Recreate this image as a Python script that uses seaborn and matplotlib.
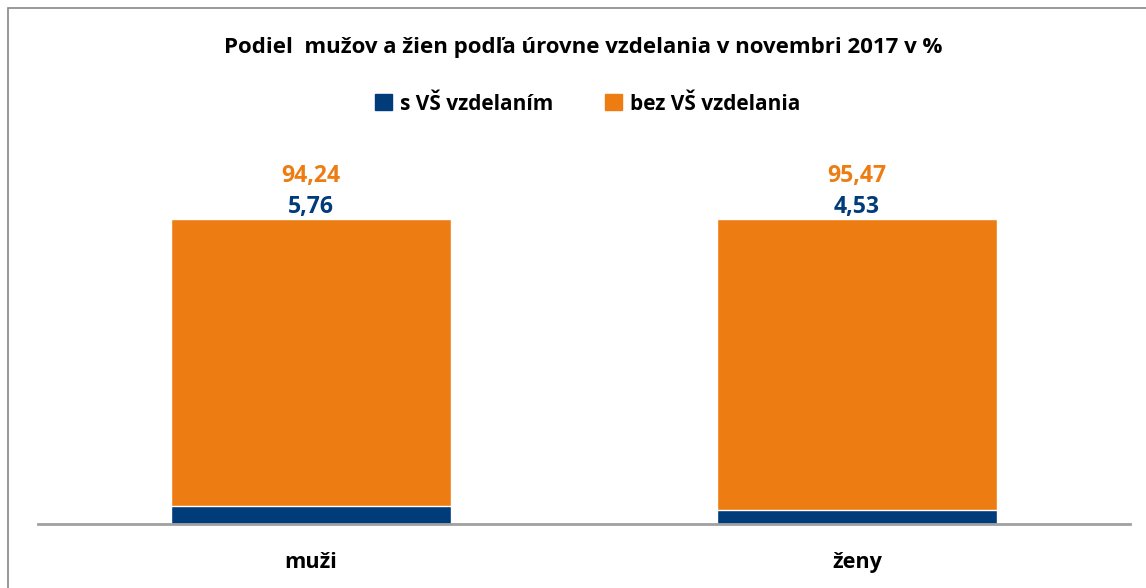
import matplotlib.pyplot as plt
import pandas as pd
import seaborn as sns
from matplotlib.patches import Rectangle

categories = ['muži', 'ženy']
s_vs = [5.76, 4.53]
bez_vs = [94.24, 95.47]
series_names = ['s VŠ vzdelaním', 'bez VŠ vzdelania']
title = 'Podiel  mužov a žien podľa úrovne vzdelania v novembri 2017 v %'

blue = '#003B7A'
orange = '#ED7D13'

sns.set_style('white')
plt.rcParams['font.family'] = ['Open Sans', 'DejaVu Sans']
plt.rcParams['text.color'] = 'black'
plt.rcParams['xtick.color'] = 'black'

data = pd.DataFrame({'kat': categories, 's_vs': s_vs, 'bez_vs': bez_vs})
data['spolu'] = data['s_vs'] + data['bez_vs']

fig = plt.figure(figsize=(11.46, 5.88), dpi=100)
W, H = 1146, 588
ax = fig.add_axes([38 / W, (H - 524) / H, (1130 - 38) / W, 305 / H])

# stacked bars: total in orange, blue share drawn over it
sns.barplot(data=data, x='kat', y='spolu', color=orange, width=0.513,
            saturation=1, ax=ax)
sns.barplot(data=data, x='kat', y='s_vs', color=blue, width=0.513,
            saturation=1, ax=ax)

ax.set_xlim(-0.5, 1.5)
ax.set_ylim(0, 100)
ax.set_xlabel('')
ax.set_ylabel('')
ax.set_yticks([])
for side in ['top', 'right', 'left']:
    ax.spines[side].set_visible(False)
ax.spines['bottom'].set_color('#A0A0A0')
ax.spines['bottom'].set_linewidth(2)
ax.tick_params(axis='x', length=0, pad=20, labelsize=15.6, labelcolor='black')
for lbl in ax.get_xticklabels():
    lbl.set_fontweight('bold')

# value labels above bars
for i, row in data.iterrows():
    top = row['spolu']
    ax.annotate(f"{row['s_vs']:.2f}".replace('.', ','), (i, top),
                xytext=(0, 12), textcoords='offset pixels', ha='center',
                va='center', color=blue, fontsize=16.6, fontweight='bold',
                annotation_clip=False)
    ax.annotate(f"{row['bez_vs']:.2f}".replace('.', ','), (i, top),
                xytext=(0, 43), textcoords='offset pixels', ha='center',
                va='center', color=orange, fontsize=16.6, fontweight='bold',
                annotation_clip=False)

fig.text(0.509, 1 - 47 / H, title, ha='center', va='center', fontsize=16,
         fontweight='bold', color='black')

handles = [Rectangle((0, 0), 1, 1, color=blue), Rectangle((0, 0), 1, 1, color=orange)]
leg = fig.legend(handles, series_names, loc='center', bbox_to_anchor=(0.513, 1 - 104 / H),
                 ncol=2, frameon=False, handlelength=0.8, handleheight=0.8,
                 handletextpad=0.4, columnspacing=2.5,
                 prop={'weight': 'bold', 'size': 15})
for t in leg.get_texts():
    t.set_color('black')

# outer chart frame (cropped on the right and bottom)
fig.patches.append(Rectangle((8 / W, -0.01), 1.02, 1 - 8 / H + 0.01,
                             transform=fig.transFigure, fill=False,
                             edgecolor='#888888', linewidth=1.2))

fig.savefig('out.png', dpi=100)
